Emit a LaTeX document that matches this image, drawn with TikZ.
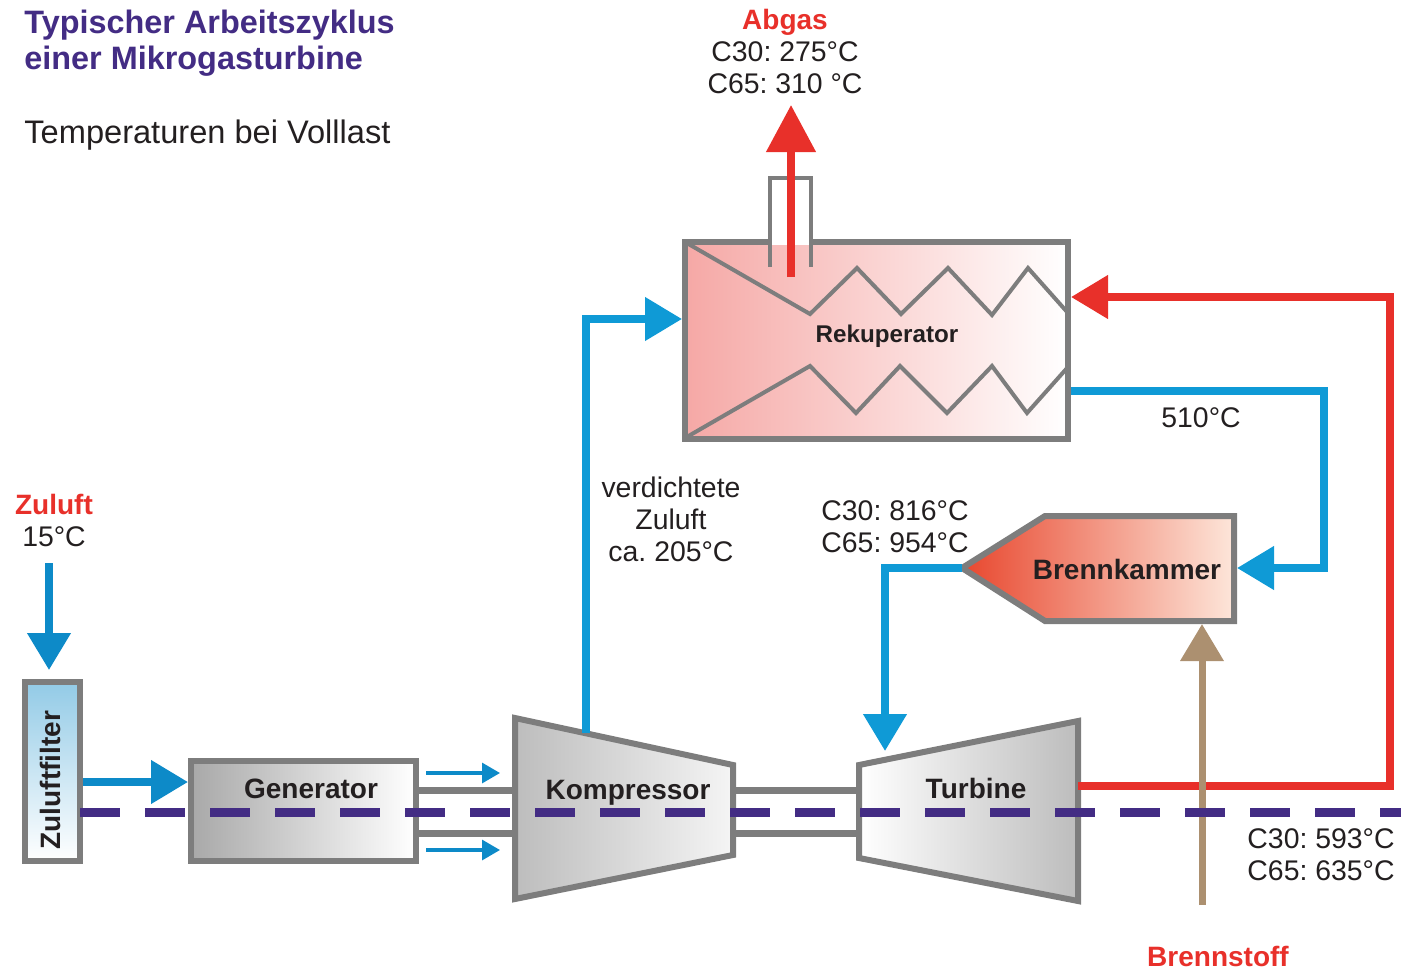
\documentclass[tikz,border=0pt]{standalone}
\usepackage{fontspec}
\setmainfont{Liberation Sans}
\usepackage{tikz}
\usetikzlibrary{arrows.meta,positioning,calc}
\definecolor{Blue}{HTML}{0F9AD6}
\definecolor{DeepBlue}{HTML}{0D8AC8}
\definecolor{Red}{HTML}{E8302A}
\definecolor{Flame}{HTML}{E8472E}
\definecolor{Ember}{HTML}{FDE6DA}
\definecolor{Tan}{HTML}{AC9070}
\definecolor{Wall}{HTML}{7D7D7D}
\definecolor{Axis}{HTML}{432C84}
\definecolor{Ink}{HTML}{231F20}
\frenchspacing
\tikzset{
  wall/.style={draw=Wall,line width=3pt,line join=miter},
  coil/.style={draw=Wall,line width=2pt,line join=miter},
  pipe/.style={line width=3.8pt,line join=miter},
  bighead/.style={-{Triangle[length=18.5pt,width=21pt]}},
  smallhead/.style={-{Triangle[length=9pt,width=10pt]}},
  shaft/.style={draw=Wall,line width=3.5pt},
  txt/.style={text=Ink,align=center,font=\fontsize{14.2}{16}\selectfont},
  bold/.style={text=Ink,font=\fontsize{14}{16}\selectfont\bfseries},
  hot/.style={text=Red,font=\fontsize{14}{16}\selectfont\bfseries}
}
\begin{document}
\begin{tikzpicture}[x=0.5pt,y=-0.5pt]
  \useasboundingbox (0,0) rectangle (1401,969);
  \node[anchor=west,inner sep=0pt,align=left,text=Axis,font=\fontsize{16.2}{18}\selectfont\bfseries] (title) at (24,43) {Typischer Arbeitszyklus\\einer Mikrogasturbine};
  \node[anchor=west,inner sep=0pt,text=Ink,font=\fontsize{16.3}{18}\selectfont] (subtitle) at (24,135) {Temperaturen bei Volllast};

  \coordinate (genshaftA) at (419,790);
  \coordinate (genshaftB) at (419,833);
  \coordinate (kompshaftA) at (515,790);
  \coordinate (kompshaftB) at (515,833);
  \coordinate (kompoutA) at (733,790);
  \coordinate (kompoutB) at (733,833);
  \coordinate (turbinA) at (859,790);
  \coordinate (turbinB) at (859,833);
  \draw[shaft] (genshaftA) -- (kompshaftA);
  \draw[shaft] (genshaftB) -- (kompshaftB);
  \draw[shaft] (kompoutA) -- (turbinA);
  \draw[shaft] (kompoutB) -- (turbinB);

  \node[wall,top color=DeepBlue!45,bottom color=white,middle color=DeepBlue!22,outer sep=0pt,minimum width=27.5pt,minimum height=89.5pt] (filter) at (52.5,771.5) {};
  \node[bold,rotate=90] (filterlabel) at (50,780) {Zuluftfilter};
  \node[wall,left color=black!34,right color=white,outer sep=0pt,minimum width=112.5pt,minimum height=50pt] (generator) at (303.5,811) {};
  \node[bold] (generatorlabel) at (311,789) {Generator};
  \path[wall,left color=black!26,right color=black!4] (515,718) -- (733,765) -- (733,855) -- (515,899) -- cycle;
  \node[bold] (kompressor) at (628,793) {Kompressor};
  \path[wall,left color=white,right color=black!26] (859,765) -- (1078,721) -- (1078,901) -- (859,858) -- cycle;
  \node[bold] (turbine) at (976,788) {Turbine};

  \node[wall,left color=Red!42,middle color=Red!26,right color=white,outer sep=0pt,minimum width=191.5pt,minimum height=98.5pt] (rekuperator) at (876.5,340.5) {};
  \fill[white] (772,178) rectangle (809,245);
  \draw[coil] (770,267) -- (770,178) -- (811,178) -- (811,267);
  \draw[coil] (685,242) -- (810,314) -- (857,268) -- (901,314) -- (948,268) -- (992,315) -- (1028,268) -- (1068,313);
  \draw[coil] (685,438) -- (810,366) -- (856,413) -- (900,366) -- (947,413) -- (992,366) -- (1027,413) -- (1068,367);
  \node[bold,font=\fontsize{12.1}{14}\selectfont\bfseries] (rekulabel) at (887,336) {Rekuperator};

  \path[wall,left color=Flame,right color=Ember] (962,568) -- (1045,516) -- (1234,516) -- (1234,621) -- (1045,621) -- cycle;
  \node[bold] (brennkammer) at (1127,569) {Brennkammer};

  \coordinate (zuluftin) at (49,563);
  \coordinate (filtertop) at (49,670);
  \coordinate (filterout) at (83,782);
  \coordinate (genin) at (188,782);
  \coordinate (coolA) at (426,773);
  \coordinate (coolB) at (500,773);
  \coordinate (coolC) at (426,850);
  \coordinate (coolD) at (500,850);
  \coordinate (kompout) at (586,733);
  \coordinate (rekuin) at (682,319);
  \coordinate (rekuout) at (1071,391);
  \coordinate (brennin) at (1237,568);
  \coordinate (brennout) at (962,568);
  \coordinate (turbinein) at (885,751);
  \coordinate (turbineout) at (1078,786);
  \coordinate (rekuhot) at (1071,297);
  \coordinate (abgasin) at (791,277);
  \coordinate (abgasout) at (791,105);
  \coordinate (fuelin) at (1202,905);
  \coordinate (fuelout) at (1202,624);

  \draw[pipe,DeepBlue,bighead] (zuluftin) -- (filtertop);
  \draw[pipe,DeepBlue,bighead] (filterout) -- (genin);
  \draw[DeepBlue,line width=1.6pt,smallhead] (coolA) -- (coolB);
  \draw[DeepBlue,line width=1.6pt,smallhead] (coolC) -- (coolD);
  \draw[pipe,Blue,bighead] (kompout) |- (rekuin);
  \draw[pipe,Blue,bighead] (rekuout) -- (1324,391) -- (1324,568) -- (brennin);
  \draw[pipe,Blue,bighead] (brennout) -| (turbinein);
  \draw[pipe,Red,bighead] (turbineout) -- (1390,786) -- (1390,297) -- (rekuhot);
  \draw[pipe,Red,-{Triangle[length=23.5pt,width=24pt]}] (abgasin) -- (abgasout);
  \draw[pipe,Tan,line width=3.5pt,bighead] (fuelin) -- (fuelout);

  \coordinate (axisstart) at (80,812);
  \coordinate (axisend) at (1401,812);
  \draw[Axis,line width=4.5pt,dash pattern=on 20pt off 12.5pt] (axisstart) -- (axisend);

  \node[hot] (abgas) at (785,22) {Abgas};
  \node[txt] (abgastemp) at (785,68) {C30: 275°C\\C65: 310 °C};
  \node[hot] (zuluft) at (54,504) {Zuluft};
  \node[txt] (zulufttemp) at (54,537) {15°C};
  \node[txt] (verdichtet) at (671,519) {verdichtete\\Zuluft\\ca. 205°C};
  \node[txt] (rekutemp) at (1201,418) {510°C};
  \node[txt] (brenntemp) at (895,527) {C30: 816°C\\C65: 954°C};
  \node[txt] (turbintemp) at (1321,855) {C30: 593°C\\C65: 635°C};
  \node[hot] (brennstoff) at (1218,956) {Brennstoff};
\end{tikzpicture}
\end{document}
